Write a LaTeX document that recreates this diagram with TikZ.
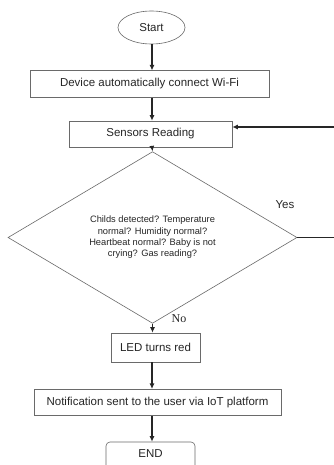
\documentclass[tikz,border=0pt]{standalone}
\usepackage{fontspec}
\setmainfont{Liberation Sans}
\newfontfamily\nofont{Liberation Serif}
\usetikzlibrary{shapes.geometric,arrows.meta}
\definecolor{boxgray}{HTML}{6A6A6A}
\definecolor{inkgray}{HTML}{262626}
\begin{document}
\begin{tikzpicture}[x=1pt,y=-1pt,
    box/.style={draw=boxgray,line width=0.6pt,inner sep=0pt,text=inkgray,font=\fontsize{11.5}{13}\selectfont},
    arr/.style={-{Latex[length=5.5pt,width=5pt]},line width=1.3pt,draw=inkgray}]
  \useasboundingbox[fill=white] (0,0) rectangle (334,465);
  \coordinate (spine) at (152,0);

  \node[box,ellipse,minimum width=67,minimum height=33] (start) at (151.5,27.5) {Start};
  \node[box,minimum width=239,minimum height=26.5] (wifi) at (149.5,84) {Device automatically connect Wi-Fi};
  \node[box,minimum width=163,minimum height=26] (sensors) at (150.5,134) {Sensors Reading};
  \node[box,diamond,minimum width=289,minimum height=139,font=\fontsize{9.3}{11.3}\selectfont] (check) at (152.5,237.5)
    {\raisebox{5.5pt}{\begin{tabular}{@{}c@{}}Childs detected? Temperature\\ normal? Humidity normal?\\
      Heartbeat normal? Baby is not\\ crying? Gas reading?\end{tabular}}};
  \node[box,minimum width=89,minimum height=29] (led) at (155.5,347.5) {LED turns red};
  \node[box,minimum width=247,minimum height=26.5] (notify) at (157.5,402.5) {Notification sent to the user via IoT platform};
  \node[box,rounded corners=4pt,minimum width=89,minimum height=34,text depth=11pt] (end) at (150.5,459) {END};

  \node[text=inkgray,font=\fontsize{11.5}{13}\selectfont] (yes) at (285,205) {Yes};
  \node[text=inkgray,font=\nofont\fontsize{12}{13}\selectfont] (no) at (179,319) {No};

  \draw[arr] (spine |- start.south) -- (spine |- wifi.north);
  \draw[arr] (spine |- wifi.south) -- (spine |- sensors.north);
  \draw[arr] (spine |- sensors.south) -- (check.north);
  \draw[arr] (check.south) -- (check.south |- led.north);
  \draw[arr] (spine |- led.south) -- (spine |- notify.north);
  \draw[arr] (spine |- notify.south) -- (spine |- end.north);
  \draw[arr] (check.east) -- ++(45,0) |- ([yshift=7pt]sensors.east);
\end{tikzpicture}
\end{document}
